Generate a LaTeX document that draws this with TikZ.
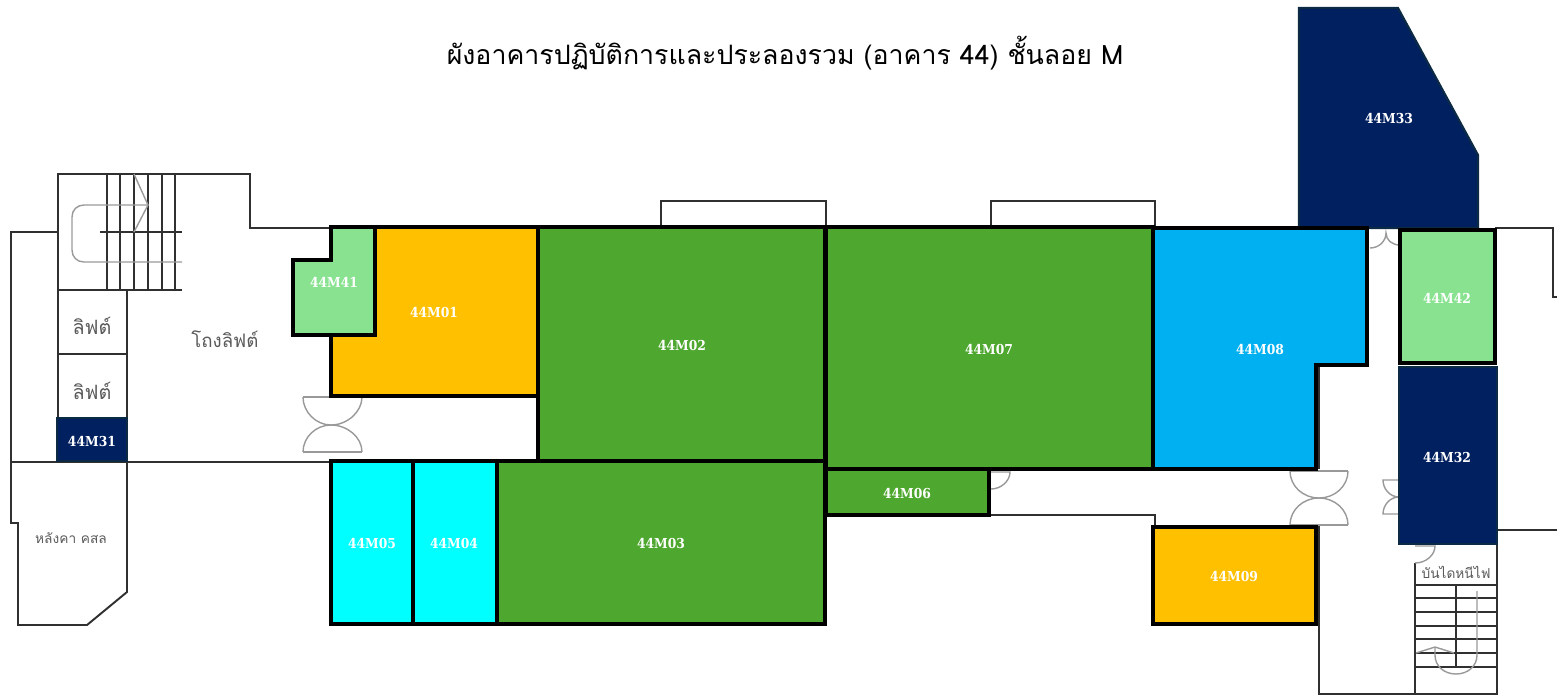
\documentclass[tikz,border=0pt]{standalone}
\usepackage{fontspec}
\newfontfamily\thaifont[Script=Thai]{Loma}
\newfontfamily\roomfont{DejaVu Serif Condensed}
\definecolor{navyroom}{HTML}{002060}
\definecolor{navyline}{HTML}{0C2A44}
\definecolor{greenroom}{HTML}{4EA72E}
\definecolor{lightroom}{HTML}{88E290}
\definecolor{orangeroom}{HTML}{FFC000}
\definecolor{blueroom}{HTML}{00B0F0}
\definecolor{cyanroom}{HTML}{00FFFF}
\definecolor{wallline}{HTML}{303030}
\definecolor{swingline}{HTML}{999999}
\definecolor{thaitext}{HTML}{5A5A5A}
\tikzset{
  wall/.style={draw=wallline,line width=0.55pt},
  swing/.style={draw=swingline,line width=0.4pt},
  room/.style={draw=black,line width=1.3pt,miter limit=10},
  navy/.style={fill=navyroom,draw=navyline,line width=0.6pt},
  roomtag/.style={text=white,inner sep=0pt,font=\roomfont\bfseries\fontsize{3.9pt}{4.5pt}\selectfont},
  thaitag/.style={text=thaitext,inner sep=0pt,font=\thaifont\fontsize{5.6pt}{7pt}\selectfont},
}
\begin{document}
\begin{tikzpicture}[x=0.01cm,y=-0.01cm]
  \useasboundingbox (0,0) rectangle (1557,696);
  % title
  \node[inner sep=0pt,text=black,font=\thaifont\fontsize{7.6pt}{9pt}\selectfont] (title) at (785,53)
    {ผังอาคารปฏิบัติการและประลองรวม (อาคาร 44) ชั้นลอย M};
  % walls
  \draw[wall] (331,228) -- (250,228) -- (250,174) -- (58,174) -- (58,418);
  \draw[wall] (58,232) -- (11,232) -- (11,523) -- (18,523) -- (18,625) -- (87,625) -- (127,592) -- (127,290) -- (58,290);
  \draw[wall] (58,354) -- (127,354);
  \draw[wall] (11,462) -- (331,462);
  \draw[wall] (661,227) -- (661,201) -- (826,201) -- (826,227);
  \draw[wall] (991,227) -- (991,201) -- (1155,201) -- (1155,227);
  \draw[wall] (989,515) -- (1155,515) -- (1155,527);
  \draw[wall] (1367,228) -- (1400,228);
  \draw[wall] (1495,228) -- (1553,228) -- (1553,297) -- (1557,297);
  \draw[wall] (1497,530) -- (1557,530);
  \draw[wall] (1319,365) -- (1319,469);
  \draw[wall] (1319,525) -- (1319,694) -- (1497,694) -- (1497,544);
  \draw[wall] (1415,563) -- (1415,694);
  % routine for stairs
  \foreach \sx in {107,120,134,148,162,175} \draw[wall] (\sx,174) -- (\sx,290);
  \draw[wall] (100,232) -- (182,232);
  \draw[wall] (127,290) -- (182,290);
  \foreach \sy in {585,598,612,626,639,653,667} \draw[wall] (1415,\sy) -- (1497,\sy);
  \draw[wall] (1456,585) -- (1456,667);
  % walking lines
  \draw[swing] (148,205) -- (84,205) .. controls (77,205) and (72,210) .. (72,217) -- (72,250)
    .. controls (72,257) and (77,262) .. (84,262) -- (182,262);
  \draw[swing] (134,174) -- (148,205) -- (134,232);
  \draw[swing] (1477,591) -- (1477,655) .. controls (1477,666) and (1468,674) .. (1456,674)
    .. controls (1444,674) and (1435,666) .. (1435,655) -- (1435,647);
  \draw[swing] (1416,653) -- (1435,647) -- (1454,653);
  % double doors
  \draw[swing] (303,397) -- (362,397);
  \draw[swing] (303,397) .. controls (303,412) and (316,425) .. (331,425) .. controls (347,425) and (362,412) .. (362,397);
  \draw[swing] (303,452) .. controls (303,437) and (316,425) .. (331,425) .. controls (347,425) and (362,437) .. (362,452);
  \draw[swing] (303,452) -- (362,452);
  \draw[swing] (1290,471) -- (1348,471);
  \draw[swing] (1290,471) .. controls (1290,486) and (1303,498) .. (1319,498) .. controls (1335,498) and (1348,486) .. (1348,471);
  \draw[swing] (1290,525) .. controls (1290,510) and (1303,498) .. (1319,498) .. controls (1335,498) and (1348,510) .. (1348,525);
  \draw[swing] (1290,525) -- (1348,525);
  \draw[swing] (1370,248) .. controls (1379,248) and (1386,241) .. (1386,233) .. controls (1386,240) and (1392,245) .. (1400,245);
  \draw[swing] (1399,480) -- (1383,480) .. controls (1383,489) and (1390,497) .. (1399,497)
    .. controls (1390,497) and (1383,505) .. (1383,514) -- (1399,514);
  % single doors
  \draw[swing] (991,489) .. controls (1001,489) and (1010,481) .. (1010,472) -- (991,472);
  \draw[swing] (1415,563) .. controls (1426,563) and (1435,555) .. (1435,546) -- (1415,546);
  % rooms
  \draw[navy] (1299,8) -- (1398,8) -- (1478,155) -- (1478,228) -- (1299,228) -- cycle;
  \draw[navy] (1399,367) rectangle (1497,544);
  \draw[navy] (57,418) rectangle (127,461);
  \draw[room,fill=orangeroom] (331,227) rectangle (538,396);
  \draw[room,fill=lightroom] (331,227) -- (375,227) -- (375,335) -- (293,335) -- (293,260) -- (331,260) -- cycle;
  \draw[room,fill=greenroom] (538,227) rectangle (825,461);
  \draw[room,fill=greenroom] (826,227) rectangle (1153,469);
  \draw[room,fill=blueroom] (1153,228) -- (1367,228) -- (1367,365) -- (1316,365) -- (1316,469) -- (1153,469) -- cycle;
  \draw[room,fill=lightroom] (1400,230) rectangle (1495,363);
  \draw[room,fill=greenroom] (826,469) rectangle (989,515);
  \draw[room,fill=orangeroom] (1153,527) rectangle (1316,624);
  \draw[room,fill=cyanroom] (331,461) rectangle (413,624);
  \draw[room,fill=cyanroom] (413,461) rectangle (497,624);
  \draw[room,fill=greenroom] (497,461) rectangle (825,624);
  % room labels
  \node[roomtag] (m33) at (1389,118) {44M33};
  \node[roomtag] (m41) at (334,282) {44M41};
  \node[roomtag] (m01) at (434,312) {44M01};
  \node[roomtag] (m02) at (682,345) {44M02};
  \node[roomtag] (m07) at (989,349) {44M07};
  \node[roomtag] (m08) at (1260,349) {44M08};
  \node[roomtag] (m42) at (1447,298) {44M42};
  \node[roomtag] (m32) at (1447,457) {44M32};
  \node[roomtag] (m31) at (92,441) {44M31};
  \node[roomtag] (m06) at (907,493) {44M06};
  \node[roomtag] (m09) at (1234,576) {44M09};
  \node[roomtag] (m05) at (372,543) {44M05};
  \node[roomtag] (m04) at (454,543) {44M04};
  \node[roomtag] (m03) at (661,543) {44M03};
  % plan labels
  \node[thaitag] (lifta) at (92,326) {ลิฟต์};
  \node[thaitag] (liftb) at (92,391) {ลิฟต์};
  \node[thaitag,font=\thaifont\fontsize{5.3pt}{7pt}\selectfont] (lobby) at (225,339) {โถงลิฟต์};
  \node[thaitag,font=\thaifont\fontsize{3.9pt}{5pt}\selectfont] (roof) at (71,538) {หลังคา คสล};
  \node[thaitag,font=\thaifont\fontsize{3.9pt}{5pt}\selectfont] (fire) at (1456,572) {บันไดหนีไฟ};
\end{tikzpicture}
\end{document}
